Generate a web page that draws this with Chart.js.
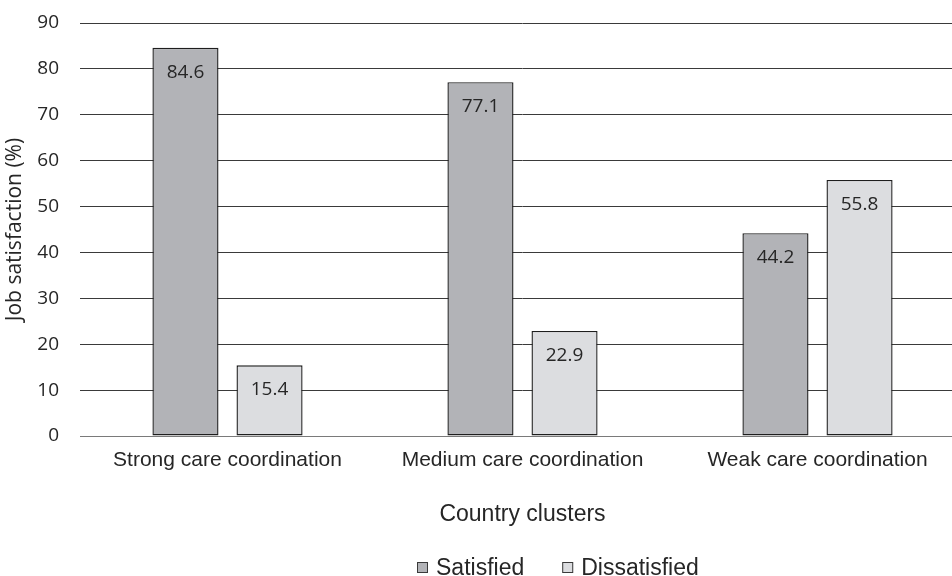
<!DOCTYPE html>
<html>
<head>
<meta charset="utf-8">
<script src="https://cdn.jsdelivr.net/npm/chart.js@4/dist/chart.umd.min.js"></script>
<style>
  html, body { margin: 0; padding: 0; background: #fff; overflow: hidden; }
  #wrap { width: 966px; height: 576px; overflow: hidden; }
</style>
</head>
<body>
<div id="wrap"><canvas id="chart" width="966" height="576"></canvas></div>
<script>
// Job satisfaction by country cluster
const categories = ['Strong care coordination', 'Medium care coordination', 'Weak care coordination'];
const seriesNames = ['Satisfied', 'Dissatisfied'];
const satisfied = [84.6, 77.1, 44.2];
const dissatisfied = [15.4, 22.9, 55.8];
const yTicks = [0, 10, 20, 30, 40, 50, 60, 70, 80, 90];

const fills = ['#b2b3b7', '#dcdde0'];
const edge = '#1e1e1e';
const calibriLike = '"Open Sans", "Noto Sans", sans-serif';
const arialLike = '"Liberation Sans", Arial, sans-serif';

// value printed inside the top of each bar
const barValues = {
  id: 'barValues',
  afterDatasetsDraw(chart) {
    const ctx = chart.ctx;
    ctx.save();
    ctx.font = '19px ' + calibriLike;
    ctx.fillStyle = '#262626';
    ctx.textAlign = 'center';
    ctx.textBaseline = 'alphabetic';
    chart.data.datasets.forEach((ds, i) => {
      chart.getDatasetMeta(i).data.forEach((bar, j) => {
        ctx.fillText(ds.data[j].toFixed(1), bar.x, bar.y + 30);
      });
    });
    ctx.restore();
  }
};

// legend row along the bottom edge
const bottomLegend = {
  id: 'bottomLegend',
  afterDraw(chart) {
    const ctx = chart.ctx;
    ctx.save();
    ctx.font = '23px ' + arialLike;
    ctx.textBaseline = 'alphabetic';
    let x = 417;
    const baseY = 575;
    chart.data.datasets.forEach((ds, i) => {
      ctx.fillStyle = ds.backgroundColor;
      ctx.fillRect(x, 562, 11, 11);
      ctx.strokeStyle = '#3a3a3a';
      ctx.lineWidth = 1;
      ctx.strokeRect(x + 0.5, 562.5, 10, 10);
      ctx.fillStyle = '#262626';
      ctx.fillText(ds.label, x + 19, baseY);
      x += 19 + ctx.measureText(ds.label).width + 38;
    });
    ctx.restore();
  }
};

new Chart(document.getElementById('chart'), {
  type: 'bar',
  data: {
    labels: categories,
    datasets: [
      { label: seriesNames[0], data: satisfied, backgroundColor: fills[0], borderColor: edge, borderWidth: 1.4, borderSkipped: false },
      { label: seriesNames[1], data: dissatisfied, backgroundColor: fills[1], borderColor: edge, borderWidth: 1.4, borderSkipped: false }
    ]
  },
  options: {
    responsive: false,
    animation: false,
    devicePixelRatio: 1,
    categoryPercentage: 0.57,
    barPercentage: 0.786,
    layout: { padding: { top: 23, right: 1, bottom: 36, left: 0 } },
    plugins: {
      legend: { display: false },
      tooltip: { enabled: false }
    },
    scales: {
      x: {
        grid: { display: false, drawTicks: false },
        border: { display: true, color: '#7a7a7a', width: 1 },
        ticks: {
          color: '#262626',
          font: { family: arialLike, size: 21 },
          padding: 12,
          maxRotation: 0
        },
        title: {
          display: true,
          text: 'Country clusters',
          color: '#262626',
          font: { family: arialLike, size: 23 },
          padding: { top: 20, bottom: 12 }
        },
        afterFit(scale) {
          scale.height = 104;
          scale.paddingLeft = 0;
          scale.paddingRight = 0;
        }
      },
      y: {
        min: 0,
        max: 90,
        afterBuildTicks(scale) { scale.ticks = yTicks.map(v => ({ value: v })); },
        grid: { color: '#3a3a3a', lineWidth: 1, drawTicks: false },
        border: { display: false },
        ticks: {
          color: '#262626',
          font: { family: calibriLike, size: 19 },
          padding: 21
        },
        title: {
          display: true,
          text: 'Job satisfaction (%)',
          color: '#262626',
          font: { family: calibriLike, size: 21 },
          padding: { top: 2, bottom: 0 }
        },
        afterFit(scale) {
          scale.width = 80;
          scale.paddingTop = 0;
          scale.paddingBottom = 0;
        }
      }
    }
  },
  plugins: [barValues, bottomLegend]
});
</script>
</body>
</html>
